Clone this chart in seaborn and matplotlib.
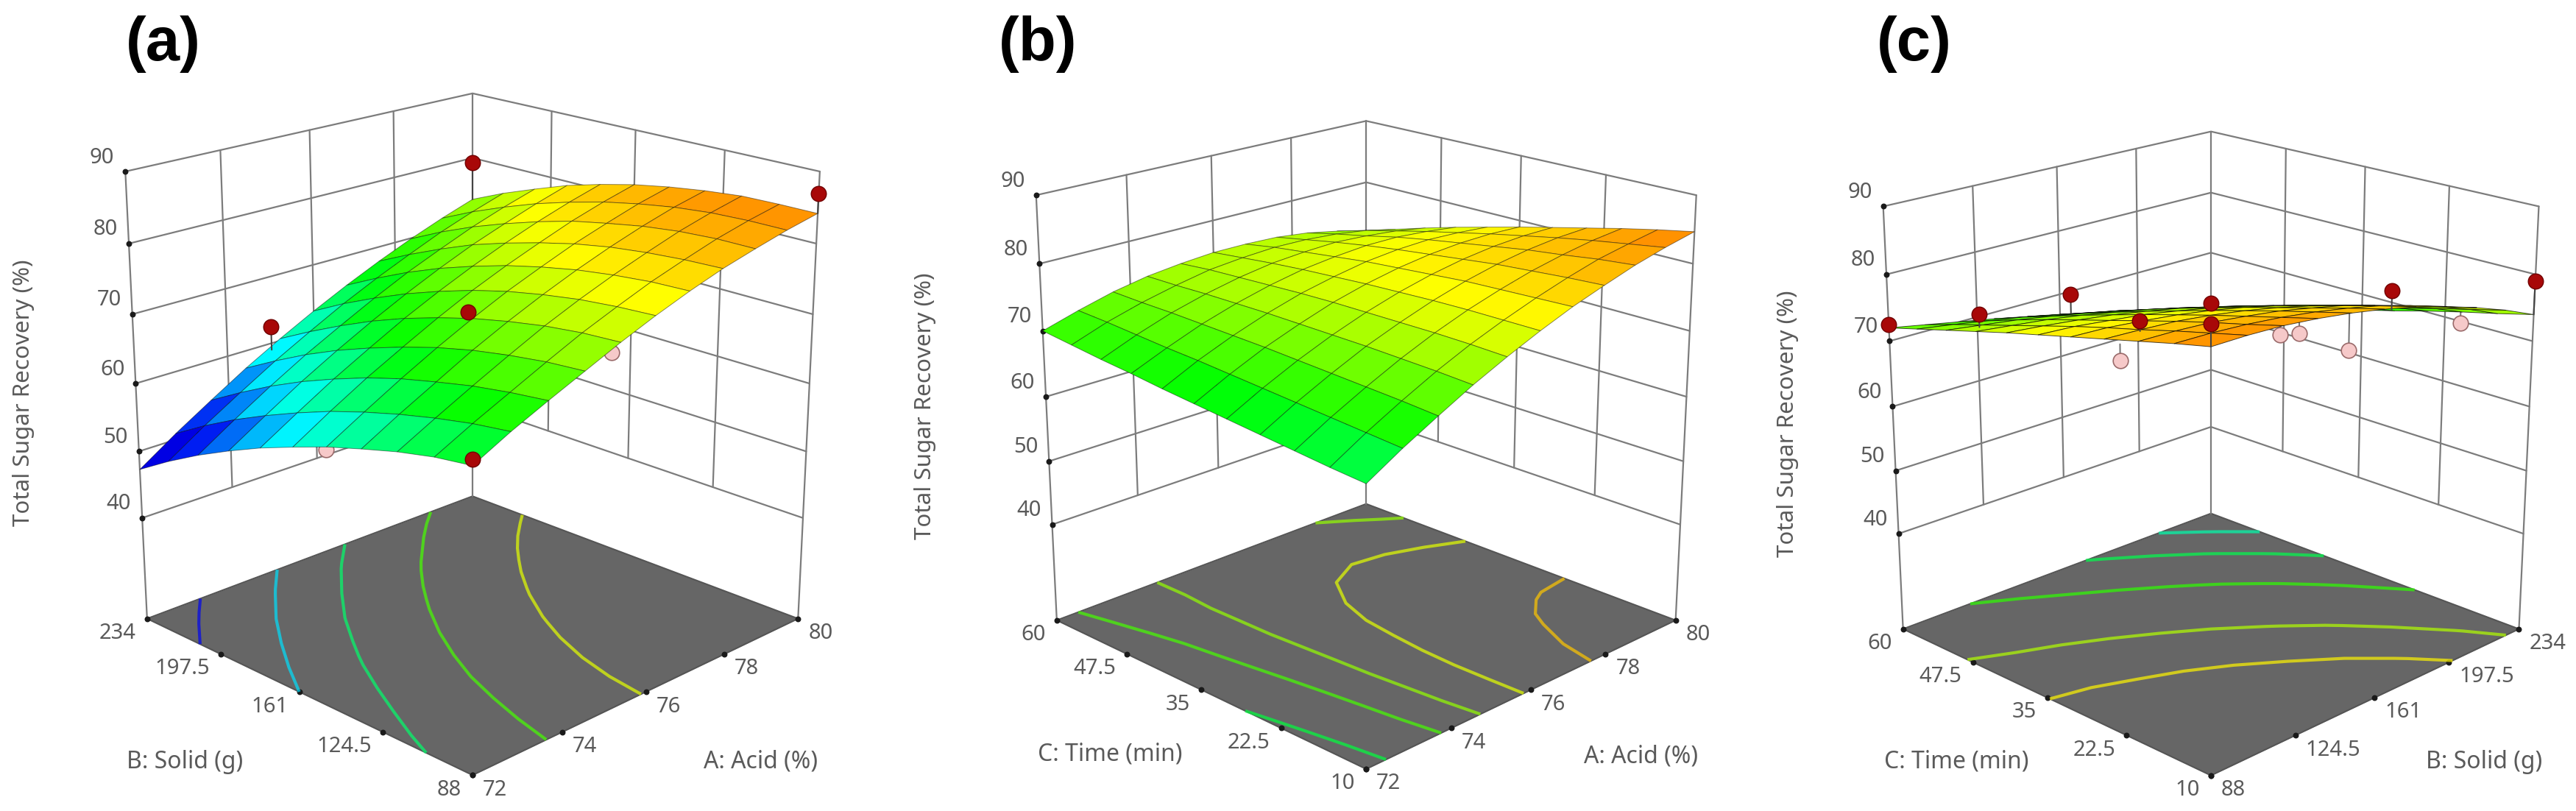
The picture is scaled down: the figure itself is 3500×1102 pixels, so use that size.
import numpy as np
import seaborn as sns
import matplotlib
matplotlib.use("Agg")
import matplotlib.pyplot as plt
from matplotlib.colors import Normalize, LinearSegmentedColormap
from mpl_toolkits.mplot3d import proj3d

## DATA
z_ticks = [40, 50, 60, 70, 80, 90]
z_floor = 24.5

acid = [72, 72.8, 73.6, 74.4, 75.2, 76, 76.8, 77.6, 78.4, 79.2, 80]
solid = [88, 102.6, 117.2, 131.8, 146.4, 161, 175.6, 190.2, 204.8, 219.4, 234]
time_min = [10, 15, 20, 25, 30, 35, 40, 45, 50, 55, 60]

acid_ticks = [72, 74, 76, 78, 80]
acid_labels = ["72", "74", "76", "78", "80"]
solid_ticks = [88, 124.5, 161, 197.5, 234]
solid_labels = ["88", "124.5", "161", "197.5", "234"]
time_ticks = [10, 22.5, 35, 47.5, 60]
time_labels = ["10", "22.5", "35", "47.5", "60"]

# rows: acid, columns: solid
surface_a = [
    [66.0, 65.3, 64.2, 62.8, 61.3, 59.5, 57.6, 55.4, 53.0, 50.3, 47.3],
    [68.6, 67.9, 66.9, 65.7, 64.3, 62.7, 60.8, 58.7, 56.4, 53.8, 50.9],
    [70.9, 70.3, 69.5, 68.4, 67.2, 65.7, 63.9, 61.9, 59.6, 57.0, 54.2],
    [73.1, 72.7, 72.0, 71.1, 69.9, 68.4, 66.7, 64.8, 62.6, 60.1, 57.4],
    [75.3, 75.0, 74.4, 73.5, 72.4, 71.0, 69.4, 67.5, 65.3, 62.9, 60.3],
    [77.3, 77.0, 76.5, 75.7, 74.7, 73.4, 71.8, 70.0, 67.9, 65.6, 63.0],
    [79.1, 78.9, 78.4, 77.7, 76.7, 75.5, 74.0, 72.3, 70.3, 68.0, 65.5],
    [80.7, 80.5, 80.1, 79.5, 78.6, 77.4, 76.0, 74.4, 72.4, 70.2, 67.8],
    [82.0, 82.0, 81.7, 81.1, 80.2, 79.2, 77.8, 76.2, 74.4, 72.3, 69.9],
    [83.2, 83.2, 83.0, 82.5, 81.7, 80.7, 79.4, 77.9, 76.1, 74.1, 71.8],
    [84.2, 84.2, 84.1, 83.6, 82.9, 82.0, 80.8, 79.4, 77.6, 75.7, 73.5],
]
# rows: acid, columns: time
surface_b = [
    [64.8, 65.2, 65.7, 66.2, 66.7, 67.2, 67.7, 68.3, 68.8, 69.4, 70.0],
    [67.8, 68.2, 68.6, 69.0, 69.4, 69.8, 70.2, 70.5, 70.9, 71.3, 71.6],
    [70.5, 70.9, 71.2, 71.5, 71.8, 72.1, 72.3, 72.5, 72.7, 72.8, 73.0],
    [73.1, 73.4, 73.6, 73.8, 73.9, 74.0, 74.1, 74.1, 74.1, 74.0, 74.0],
    [75.4, 75.6, 75.7, 75.7, 75.7, 75.7, 75.6, 75.4, 75.2, 75.0, 74.6],
    [77.5, 77.5, 77.5, 77.4, 77.2, 77.0, 76.7, 76.4, 76.0, 75.5, 75.0],
    [79.4, 79.2, 79.0, 78.8, 78.4, 78.0, 77.6, 77.0, 76.4, 75.8, 75.0],
    [81.0, 80.7, 80.3, 79.9, 79.3, 78.7, 78.1, 77.4, 76.6, 75.7, 74.8],
    [82.5, 82.0, 81.3, 80.7, 79.9, 79.1, 78.3, 77.4, 76.3, 75.3, 74.2],
    [83.7, 82.9, 82.1, 81.2, 80.2, 79.2, 78.1, 77.0, 75.8, 74.6, 73.2],
    [84.7, 83.7, 82.6, 81.4, 80.2, 79.0, 77.7, 76.4, 75.0, 73.5, 72.0],
]
# rows: time, columns: solid
surface_c = [
    [84.3, 84.3, 84.1, 83.6, 82.9, 82.0, 80.9, 79.5, 77.9, 76.1, 74.0],
    [83.2, 83.1, 82.8, 82.3, 81.6, 80.7, 79.6, 78.2, 76.6, 74.8, 72.7],
    [82.0, 81.9, 81.6, 81.0, 80.3, 79.3, 78.2, 76.8, 75.2, 73.5, 71.5],
    [80.8, 80.6, 80.3, 79.7, 78.9, 77.9, 76.7, 75.4, 73.9, 72.1, 70.2],
    [79.6, 79.4, 78.9, 78.3, 77.5, 76.5, 75.3, 74.0, 72.5, 70.7, 68.8],
    [78.4, 78.1, 77.5, 76.9, 76.0, 75.0, 73.8, 72.5, 71.0, 69.3, 67.5],
    [77.2, 76.7, 76.1, 75.4, 74.5, 73.5, 72.3, 71.0, 69.5, 67.9, 66.1],
    [75.9, 75.3, 74.7, 73.9, 72.9, 71.9, 70.7, 69.4, 68.0, 66.4, 64.8],
    [74.6, 73.9, 73.2, 72.3, 71.3, 70.2, 69.0, 67.8, 66.4, 64.9, 63.4],
    [73.3, 72.5, 71.6, 70.7, 69.6, 68.5, 67.4, 66.1, 64.8, 63.4, 61.9],
    [72.0, 71.0, 70.0, 69.0, 67.9, 66.8, 65.6, 64.4, 63.2, 61.8, 60.5],
]

levels_a = [52.5, 59.5, 65, 71, 77]
levels_b = [66.5, 71, 74, 77, 81]
levels_c = [63, 66, 70, 75, 78.5]

# design points: x, y, measured, value on the surface
above_a_x = [80, 80, 72, 75.9, 75]
above_a_y = [234, 88, 88, 161, 234]
above_a_z = [79.3, 87, 66.8, 70.5, 62.5]
above_a_fit = [73.5, 84.2, 66.0, 70.5, 59]
below_a_x = [79.5, 72.7]
below_a_y = [161, 161]
below_a_z = [57.6, 57.6]
below_a_fit = [80, 61]

above_c_x = [60, 51.5, 60, 40, 60, 10, 19.75, 10]
above_c_y = [88, 105, 166, 143.5, 234, 88, 197.5, 234]
above_c_z = [72.5, 74.8, 69.5, 73.3, 61.4, 87.3, 78.3, 79]
above_c_fit = [72, 72.9, 66.5, 71.8, 60.5, 84.3, 75.5, 74]
below_c_x = [50, 22.7, 17.5, 21.8, 14.75, 16.2]
below_c_y = [121.6, 88, 139, 161, 161, 219.4]
below_c_z = [72.1, 78.6, 78.4, 75.1, 74.8, 72.4]
below_c_fit = [73.2, 80.8, 82, 79, 81, 74.7]

## STYLE
sns.set_theme(style="white")
plt.rcParams["font.family"] = ["Noto Sans", "DejaVu Sans"]

W, H = 3500, 1102
TEXT = "#5a5a5a"
GRID = "#7c7c7c"
surf_cmap = LinearSegmentedColormap.from_list(
    "rsm", [(0, "#0000e0"), (0.06, "#0000f0"), (0.26, "#00ffff"), (0.46, "#00ff00"), (0.7, "#ffff00"), (1, "#ff2000")])
surf_norm = Normalize(50, 90)


def place_axes(fig, cx, cy, side):
    return fig.add_axes([(cx - side / 2) / W, (H - cy - side / 2) / H, side / W, side / H],
                        projection="3d", computed_zorder=False)


def tick_label(ax, x, y, z, s, dx, dy, ha):
    # label sits a fixed number of pixels away from its tick
    px, py, _ = proj3d.proj_transform(x, y, z, ax.get_proj())
    ax.annotate(s, xy=(px, py), xytext=(dx, dy), textcoords="offset pixels", color=TEXT,
                fontsize=21, ha=ha, va="center")


def draw_panel(ax, xs, ys, grid, xt, xl, yt, yl, levels, above=None, below=None, mesh=0.45, focal=0.58):
    x0, x1 = xs[0], xs[-1]
    y0, y1 = ys[0], ys[-1]
    ax.set_axis_off()
    ax.patch.set_alpha(0)

    # floor
    fx, fy = np.meshgrid([x0, x1], [y0, y1], indexing="ij")
    ax.plot_surface(fx, fy, np.full((2, 2), z_floor), color="#666666", shade=False,
                    linewidth=0, antialiased=False, zorder=1)
    ax.plot([x0, x1, x1, x0, x0], [y0, y0, y1, y1, y0], z_floor, color="#555555", lw=1.5, zorder=1)

    # walls
    for z in z_ticks:
        ax.plot([x0, x1, x1], [y1, y1, y0], z, color=GRID, lw=1.6, zorder=1)
    for x in xt[1:-1]:
        ax.plot([x, x], [y1, y1], [z_ticks[0], z_ticks[-1]], color=GRID, lw=1.6, zorder=1)
    for y in yt[1:-1]:
        ax.plot([x1, x1], [y, y], [z_ticks[0], z_ticks[-1]], color=GRID, lw=1.6, zorder=1)
    for cx, cy in [(x0, y1), (x1, y1), (x1, y0)]:
        ax.plot([cx, cx], [cy, cy], [z_floor, z_ticks[-1]], color=GRID, lw=1.6, zorder=1)

    # tick dots
    ax.scatter([x0] * len(z_ticks), [y1] * len(z_ticks), z_ticks, color="k", s=22, depthshade=False, zorder=2)
    ax.scatter(xt, [y0] * len(xt), z_floor, color="k", s=22, depthshade=False, zorder=2)
    ax.scatter([x0] * len(yt), yt, z_floor, color="k", s=22, depthshade=False, zorder=2)

    X, Y = np.meshgrid(xs, ys, indexing="ij")
    Z = np.array(grid)
    ax.contour(X, Y, Z, levels=levels, cmap=surf_cmap, norm=surf_norm, zdir="z", offset=z_floor,
               linewidths=3, alpha=0.7, zorder=3)

    if below:
        px, py, pz, pf = below
        for a, b, c, d in zip(px, py, pz, pf):
            ax.plot([a, a], [b, b], [c, d], color="#777777", lw=1.5, zorder=4)
        ax.scatter(px, py, pz, s=220, color="#f6c9c9", edgecolor="#9a6a6a", linewidth=1.2,
                   depthshade=False, zorder=4)

    ax.plot_surface(X, Y, Z, cmap=surf_cmap, norm=surf_norm, rstride=1, cstride=1,
                    edgecolor=(0, 0, 0, mesh), linewidth=0.7, shade=False, zorder=5)

    if above:
        px, py, pz, pf = above
        for a, b, c, d in zip(px, py, pz, pf):
            ax.plot([a, a], [b, b], [c, d], color="#444444", lw=1.5, zorder=6)
        ax.scatter(px, py, pz, s=220, color="#a80808", edgecolor="#700000", linewidth=1.0,
                   depthshade=False, zorder=7)

    ax.set_xticks([])
    ax.set_yticks([])
    ax.set_zticks([])
    ax.set_xlim(x0, x1, view_margin=0)
    ax.set_ylim(y0, y1, view_margin=0)
    ax.set_zlim(z_floor, z_ticks[-1], view_margin=0)
    ax.set_box_aspect((1, 1, 1.0))
    ax.set_proj_type("persp", focal_length=focal)
    ax.view_init(elev=19.93, azim=-135)

    # tick labels, once the view is fixed
    for z in z_ticks:
        tick_label(ax, x0, y1, z, str(z), -15, 19, "right")
    for x, s in zip(xt, xl):
        tick_label(ax, x, y0, z_floor, s, 14, -20, "left")
    for y, s in zip(yt, yl):
        tick_label(ax, x0, y, z_floor, s, -15, -20, "right")


fig = plt.figure(figsize=(W / 100, H / 100), dpi=100, facecolor="white")

ax_a = place_axes(fig, 627.4, 561.3, 1085.6)
draw_panel(ax_a, acid, solid, surface_a, acid_ticks, acid_labels, solid_ticks, solid_labels, levels_a,
           (above_a_x, above_a_y, above_a_z, above_a_fit), (below_a_x, below_a_y, below_a_z, below_a_fit))

ax_b = place_axes(fig, 1842.3, 577.3, 1032)
draw_panel(ax_b, acid, time_min, surface_b, acid_ticks, acid_labels, time_ticks, time_labels, levels_b)

# panel c: solid runs to the right, time to the left
ax_c = place_axes(fig, 2990.2, 590.4, 1026)
draw_panel(ax_c, solid, time_min, np.array(surface_c).T, solid_ticks, solid_labels, time_ticks, time_labels, levels_c,
           (above_c_y, above_c_x, above_c_z, above_c_fit), (below_c_y, below_c_x, below_c_z, below_c_fit),
           mesh=0.7, focal=0.6)

## TEXTS
def px_text(x, y, s, **kw):
    fig.text(x / W, 1 - y / H, s, ha="center", va="center", **kw)


for x, y, s in [(222, 60, "(a)"), (1410, 60, "(b)"), (2601, 60, "(c)")]:
    px_text(x, y, s, fontsize=60, fontweight="bold", color="black", family="Liberation Sans")
for x, y in [(32, 534), (1257, 552), (2429, 576)]:
    px_text(x, y, "Total Sugar Recovery (%)", fontsize=22.5, color=TEXT, rotation=90)
for x, y, s in [(251, 1035, "B: Solid (g)"), (1034, 1035, "A: Acid (%)"),
                (1508, 1025, "C: Time (min)"), (2229, 1028, "A: Acid (%)"),
                (2658, 1035, "C: Time (min)"), (3375, 1035, "B: Solid (g)")]:
    px_text(x, y, s, fontsize=23, color=TEXT)

fig.savefig("out.png", dpi=100)
